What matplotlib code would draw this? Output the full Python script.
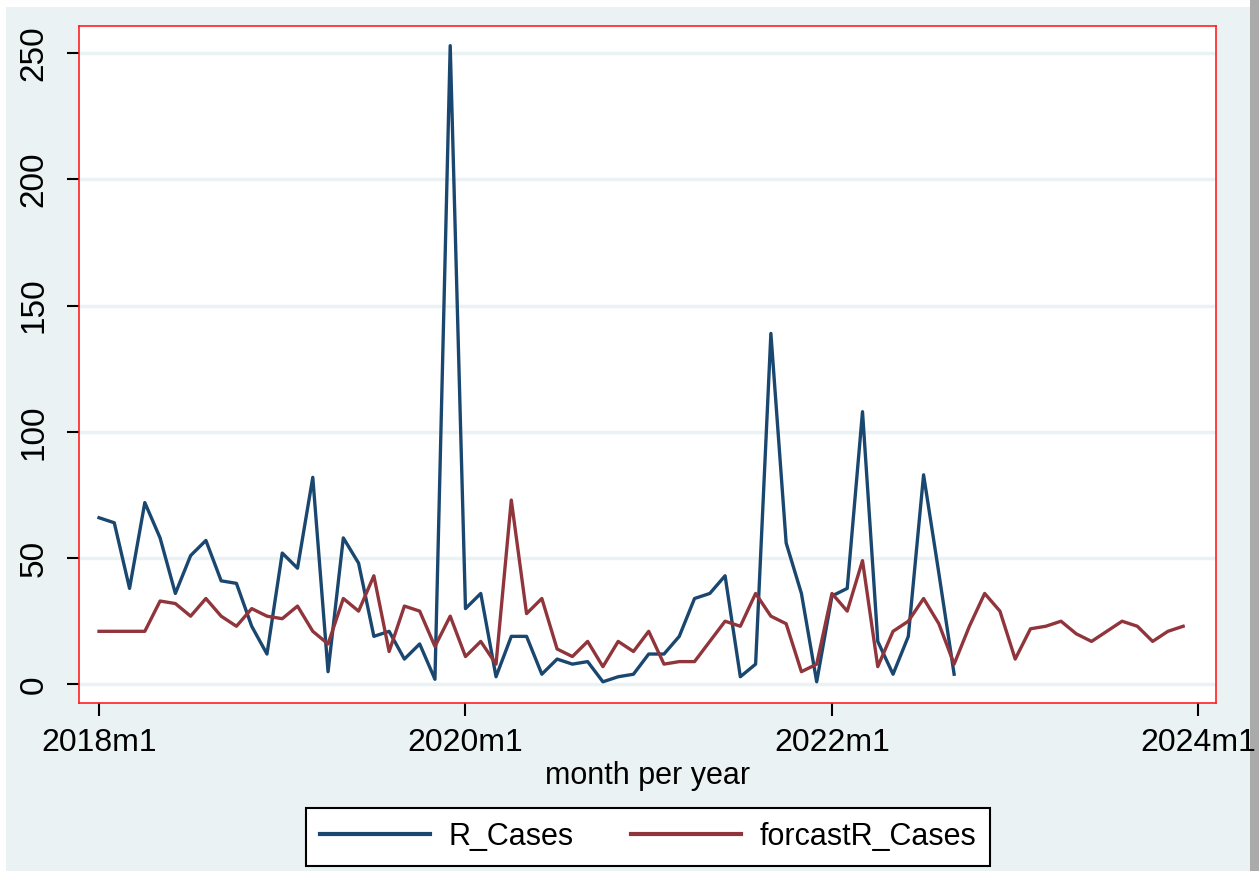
import matplotlib
matplotlib.use("Agg")
import matplotlib.pyplot as plt
from matplotlib.patches import Rectangle

plt.rcParams['font.family'] = ['Liberation Sans', 'DejaVu Sans']

# month index 0 = 2018m1
r_cases = [66, 64, 38, 72, 58, 36, 51, 57, 41, 40, 23, 12,
           52, 46, 82, 5, 58, 48, 19, 21, 10, 16, 2, 253,
           30, 36, 3, 19, 19, 4, 10, 8, 9, 1, 3, 4,
           12, 12, 19, 34, 36, 43, 3, 8, 139, 56, 36, 1,
           35, 38, 108, 17, 4, 19, 83, 44, 4]
forecast = [21, 21, 21, 21, 33, 32, 27, 34, 27, 23, 30, 27,
            26, 31, 21, 16, 34, 29, 43, 13, 31, 29, 15, 27,
            11, 17, 8, 73, 28, 34, 14, 11, 17, 7, 17, 13,
            21, 8, 9, 9, 17, 25, 23, 36, 27, 24, 5, 8,
            36, 29, 49, 7, 21, 25, 34, 24, 8, 23, 36, 29,
            10, 22, 23, 25, 20, 17, 21, 25, 23, 17, 21, 23]
x_ticks = [0, 24, 48, 72]
x_labels = ["2018m1", "2020m1", "2022m1", "2024m1"]
y_ticks = [0, 50, 100, 150, 200, 250]
series_names = ["R_Cases", "forcastR_Cases"]

W, H = 1259, 871
fig = plt.figure(figsize=(W / 100, H / 100), dpi=100)
fig.patch.set_facecolor('white')
bg = '#EAF2F3'
fig.patches.append(Rectangle((6 / W, 0), (1250 - 6) / W, (H - 7) / H,
                             transform=fig.transFigure, facecolor=bg,
                             edgecolor='none', zorder=-10))
fig.patches.append(Rectangle((1250 / W, 0), 9 / W, 1,
                             transform=fig.transFigure, facecolor='#AAAAAA',
                             edgecolor='none', zorder=-10))

ax = fig.add_axes([79 / W, 1 - 703 / H, (1216 - 79) / W, (703 - 26) / H])
ax.set_facecolor('white')

xs_r = list(range(len(r_cases)))
xs_f = list(range(len(forecast)))
ax.plot(xs_r, r_cases, color='#1A476F', lw=2.4, label=series_names[0], zorder=3)
ax.plot(xs_f, forecast, color='#90353B', lw=2.4, label=series_names[1], zorder=3)

ax.set_xlim(-1.31, 73.15)
ax.set_ylim(-7.4, 260.8)
ax.set_yticks(y_ticks)
ax.set_yticklabels([str(v) for v in y_ticks], rotation=90, va='center', fontsize=24)
ax.set_xticks(x_ticks)
ax.set_xticklabels(x_labels, fontsize=23)
ax.tick_params(axis='both', length=9, width=1.5, color='black', pad=9)
ax.tick_params(axis='y', pad=12)
ax.grid(axis='y', color=bg, lw=2.5, zorder=0)
ax.set_axisbelow(True)
for s in ax.spines.values():
    s.set_color('#FF2020')
    s.set_linewidth(1.2)

ax.set_xlabel("month per year", fontsize=22, labelpad=2)

leg = fig.legend(loc='center', bbox_to_anchor=(648 / W, 1 - 837 / H), ncol=2,
                 fontsize=22, handlelength=3.6, handletextpad=0.6,
                 columnspacing=1.9, frameon=True, fancybox=False,
                 borderpad=0.45, framealpha=1)
leg.get_frame().set_edgecolor('black')
leg.get_frame().set_facecolor('white')
leg.get_frame().set_linewidth(1.5)
for l in leg.get_lines():
    l.set_linewidth(3)

fig.savefig("out.png", dpi=100, facecolor=fig.get_facecolor())
